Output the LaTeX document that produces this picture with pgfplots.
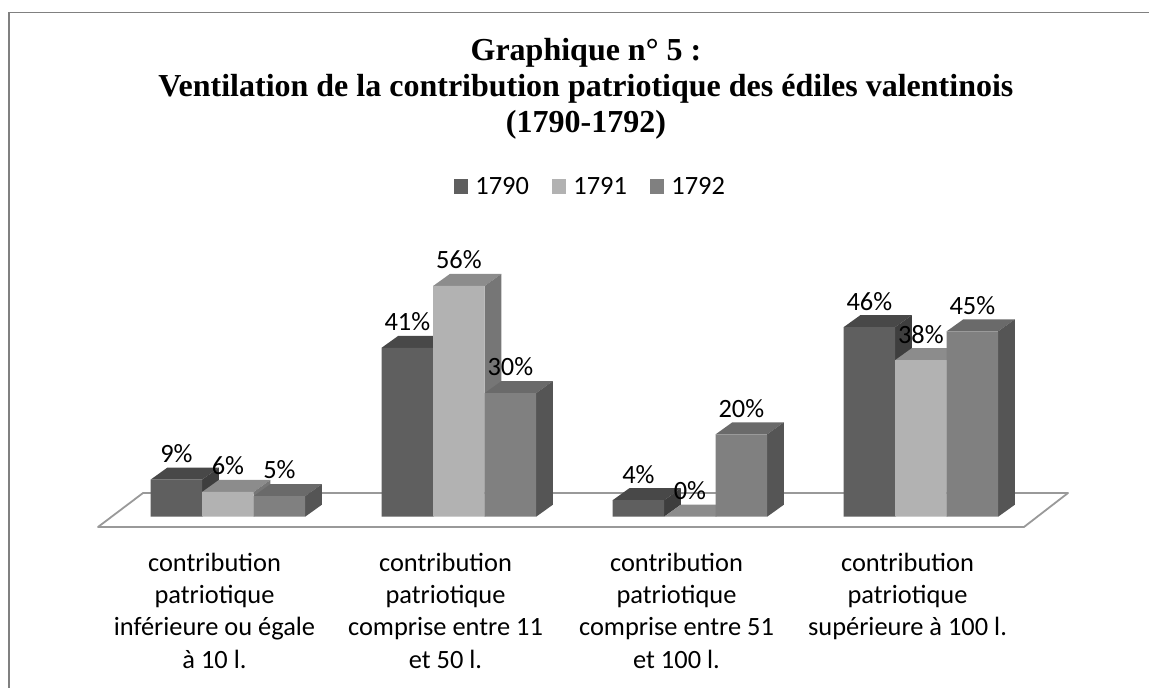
\documentclass[border=0pt]{standalone}
\usepackage{fontspec}
\setmainfont{Carlito}
\newfontfamily\timesfont{Liberation Serif}
\usepackage{pgfplots}
\pgfplotsset{compat=1.18}
\usepackage{pgfplotstable}

\definecolor{cA}{RGB}{95,95,95}
\definecolor{cAt}{RGB}{72,72,72}
\definecolor{cAs}{RGB}{62,62,62}
\definecolor{cB}{RGB}{178,178,178}
\definecolor{cBt}{RGB}{140,140,140}
\definecolor{cBs}{RGB}{118,118,118}
\definecolor{cC}{RGB}{128,128,128}
\definecolor{cCt}{RGB}{106,106,106}
\definecolor{cCs}{RGB}{85,85,85}

% share (%) of each year in each contribution class
\pgfplotstableread{
x a b c
0 9 6 5
1 41 56 30
2 4 0 20
3 46 38 45
}\datatable

\def\bw{0.223}
\def\ddx{0.0723}
\def\ddy{2.91}

\newcommand\depthfaces[4]{%
  \pgfmathsetmacro\xa{#1-\bw/2}%
  \pgfmathsetmacro\xb{#1+\bw/2}%
  \pgfmathsetmacro\xc{#1-\bw/2+\ddx}%
  \pgfmathsetmacro\xd{#1+\bw/2+\ddx}%
  \pgfmathsetmacro\yt{#2+\ddy}%
  \edef\tmp{%
    \noexpand\addplot[fill=#3,draw=none,forget plot] coordinates {(\xa,#2) (\xb,#2) (\xd,\yt) (\xc,\yt)};%
    \noexpand\addplot[fill=#4,draw=none,forget plot] coordinates {(\xb,0) (\xb,#2) (\xd,\yt) (\xd,\ddy)};%
  }\tmp
}

\newcommand\seriesdepth[4]{% column, shift, top colour, side colour
  \pgfplotsforeachungrouped \i in {0,1,2,3}{%
    \pgfplotstablegetelem{\i}{#1}\of\datatable
    \edef\val{\pgfplotsretval}%
    \pgfmathsetmacro\xx{\i+#2}%
    \depthfaces{\xx}{\val}{#3}{#4}%
  }%
}

\newcommand\lblfont{\fontsize{26.4}{32.2}\selectfont}

\pgfplotsset{pct/.style={
  nodes near coords={\pgfmathprintnumber{\pgfplotspointmeta}\%},
  every node near coord/.append style={font=\lblfont, anchor=center, yshift=26pt, text=black}}}

\begin{document}
\begin{tikzpicture}
\begin{axis}[
  at={(-3.1pt,130.1pt)}, anchor=south west,
  x=231pt, y=4.12pt,
  xmin=-1, xmax=4, ymin=-10, ymax=70,
  clip=false,
  axis line style={draw=none},
  ytick=\empty,
  xtick={-0.058,0.942,1.942,2.942},
  xticklabels={
    {contribution\\patriotique\\inférieure ou égale\\à 10 l.},
    {contribution\\patriotique\\comprise entre 11\\et 50 l.},
    {contribution\\patriotique\\comprise entre 51\\et 100 l.},
    {contribution\\patriotique\\supérieure à 100 l.}},
  major tick length=0pt,
  xticklabel style={font=\lblfont, align=center, anchor=north, inner sep=0pt, yshift=5pt},
  bar width=0.223,
  /pgf/number format/assume math mode=true,
  title={Graphique n° 5 :\\Ventilation de la contribution patriotique des édiles valentinois\\(1790-1792)},
  title style={font=\timesfont\bfseries\fontsize{32}{35.7}\selectfont, align=center,
    at={(0.510,1.5575)}, anchor=north, inner sep=0pt},
  legend columns=3,
  legend style={draw=none, fill=none, at={(0.513,1.127)}, anchor=center,
    font=\lblfont, inner sep=0pt,
    nodes={inner sep=0pt},
    /tikz/every odd column/.append style={column sep=7pt},
    /tikz/every even column/.append style={column sep=23pt}},
  legend image code/.code={\fill[#1,draw=none] (0pt,-7.25pt) rectangle (14.5pt,7.25pt);},
]
% floor
\addplot[fill=white, draw=black!40, line width=1.8pt, line join=round, line cap=round, forget plot]
  coordinates {(-0.5623,-2.5) (3.4463,-2.5) (3.6368,5.75) (-0.3675,5.75) (-0.5623,-2.5)};
% depth faces
\seriesdepth{a}{-0.223}{cAt}{cAs}
\seriesdepth{b}{0}{cBt}{cBs}
\seriesdepth{c}{0.223}{cCt}{cCs}
% front faces
\addplot[ybar, bar shift=0, fill=cA, draw=none, pct] table[x expr=\thisrow{x}-0.223,y=a]{\datatable};
\addplot[ybar, bar shift=0, fill=cB, draw=none, pct] table[x=x,y=b]{\datatable};
\addplot[ybar, bar shift=0, fill=cC, draw=none, pct] table[x expr=\thisrow{x}+0.223,y=c]{\datatable};
\legend{1790,1791,1792}
\end{axis}
\draw[black!50, line width=1.3pt] (9pt,-20pt) |- (1170pt,675.3pt);
\pgfresetboundingbox
\useasboundingbox (0,0) rectangle (1149pt,688pt);
\end{tikzpicture}
\end{document}
